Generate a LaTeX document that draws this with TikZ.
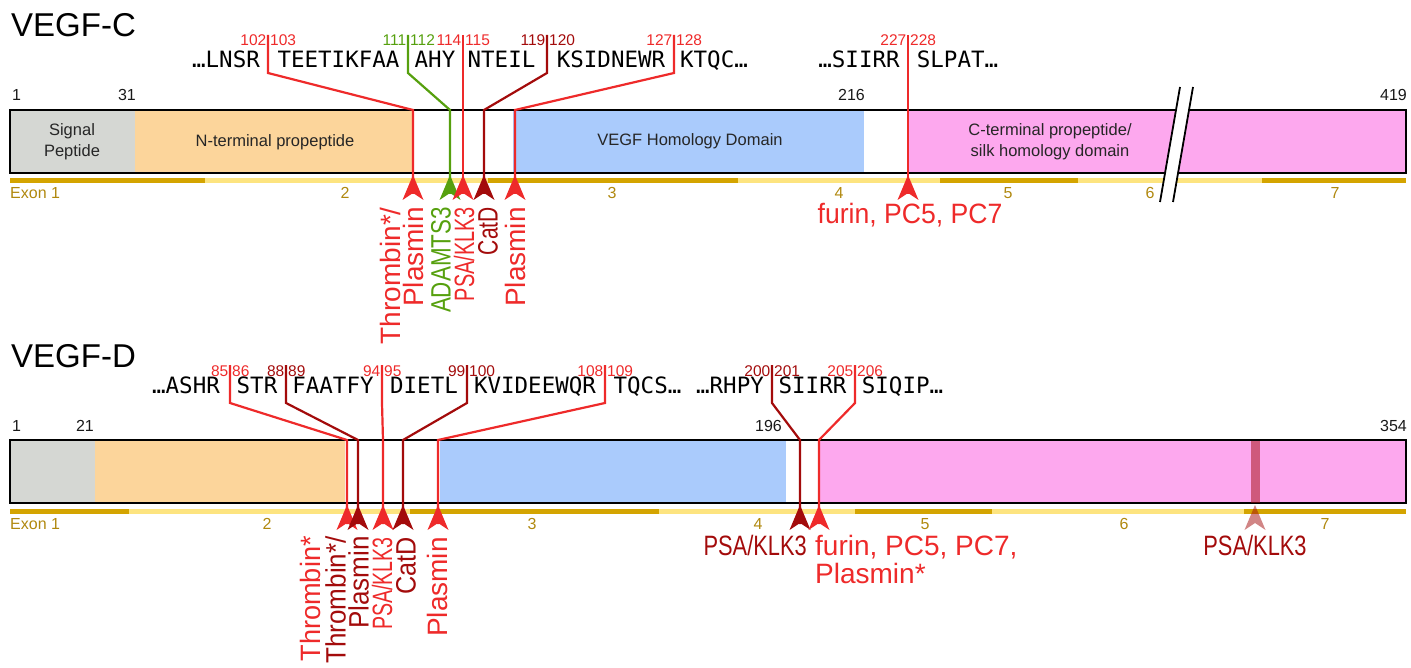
\documentclass[tikz,border=0pt]{standalone}
\usepackage{fontspec}
\usepackage{graphicx}
\setmainfont{Liberation Sans}
\newfontfamily\seqfont{DejaVu Sans Mono}
\definecolor{cred}{HTML}{EE2A2A}
\definecolor{cdred}{HTML}{A30B0B}
\definecolor{cgreen}{HTML}{56A00E}
\definecolor{cgrey}{HTML}{D5D7D3}
\definecolor{corange}{HTML}{FCD59B}
\definecolor{cblue}{HTML}{AACBFC}
\definecolor{cpink}{HTML}{FDA8EE}
\definecolor{exdark}{HTML}{D4A400}
\definecolor{exlight}{HTML}{FDE480}
\definecolor{extext}{HTML}{B0880E}
% cleavage site: name, colour, tick x, bar x, dy, left number, right number
\newcommand{\site}[7]{%
  \coordinate (#1t) at (#3,{35+#5});
  \coordinate (#1k) at (#3,{73+#5});
  \coordinate (#1b) at (#4,{110+#5});
  \coordinate (#1a) at (#4,{194+#5});
  \draw[cutline,#2] (#1t) -- (#1k) -- (#1b) -- (#1a);
  \fill[#2] (#4,{175+#5}) -- ++(10.5,25) -- ++(-10.5,-7) -- ++(-10.5,7) -- cycle;
  \node[num,text=#2,anchor=base east] (#1l) at ({#3-1.5},{46+#5}) {#6};
  \node[num,text=#2,anchor=base west] (#1r) at ({#3+2},{46+#5}) {#7};
}
\newcommand{\exseg}[4]{\fill[#4] (#2,{#1-2.5}) rectangle (#3,{#1+2.5});}
\begin{document}
\begin{tikzpicture}[x=1pt,y=-1pt,
  cutline/.style={line width=2.2pt, line join=miter},
  num/.style={font=\fontsize{15.5}{16}\selectfont, inner sep=0pt},
  posn/.style={font=\fontsize{16}{18}\selectfont, inner sep=0pt, text=black!90},
  dom/.style={font=\fontsize{16.5}{21}\selectfont, inner sep=0pt, align=center, text=black!85},
  seqw/.style={font=\seqfont\fontsize{22.5}{24}\selectfont, inner sep=0pt, anchor=base},
  exlab/.style={font=\fontsize{16}{18}\selectfont, inner sep=0pt, text=extext, anchor=base},
  rlab/.style={rotate=90, anchor=east, inner sep=0pt, align=right, font=\fontsize{28}{23}\selectfont},
  hlab/.style={inner sep=0pt, font=\fontsize{28}{29}\selectfont},
  ttl/.style={font=\fontsize{33}{36}\selectfont, inner sep=0pt, anchor=base west},
]
\useasboundingbox (0,0) rectangle (1411,668);

%================ VEGF-C =================
\node[ttl] (tC) at (11,37) {VEGF-C};
% bar
\fill[cgrey] (10,110) rectangle (135,173);
\fill[corange] (135,110) rectangle (413,173);
\fill[cblue] (513,110) rectangle (864,173);
\fill[cpink] (908,110) rectangle (1406,173);
\draw[line width=2pt] (10,110) rectangle (1406,173);
% domain labels
\node[dom] (dC1) at (72,142) {Signal\\Peptide};
\node[dom] (dC2) at (275,142) {N-terminal propeptide};
\node[dom] (dC3) at (690,141) {VEGF Homology Domain};
\node[dom] (dC4) at (1050,142) {C-terminal propeptide/\\silk homology domain};
% positions
\node[posn,anchor=base west] (pC1) at (12,101) {1};
\node[posn,anchor=base east] (pC2) at (136,101) {31};
\node[posn,anchor=base east] (pC3) at (865,101) {216};
\node[posn,anchor=base east] (pC4) at (1407,101) {419};
% exons
\exseg{181}{10}{205}{exdark}
\exseg{181}{205}{488}{exlight}
\exseg{181}{488}{738}{exdark}
\exseg{181}{738}{940}{exlight}
\exseg{181}{940}{1078}{exdark}
\exseg{181}{1078}{1262}{exlight}
\exseg{181}{1262}{1406}{exdark}
\node[exlab,anchor=base west] (eC1) at (10,199) {Exon 1};
\node[exlab] (eC2) at (345,199) {2};
\node[exlab] (eC3) at (612,199) {3};
\node[exlab] (eC4) at (839,199) {4};
\node[exlab] (eC5) at (1008,199) {5};
\node[exlab] (eC6) at (1150,199) {6};
\node[exlab] (eC7) at (1335,199) {7};
% break
\fill[white] (1180,87) -- (1193,87) -- (1173,202) -- (1160,202) -- cycle;
\draw[line width=1.8pt] (1180,87) -- (1160,202);
\draw[line width=1.8pt] (1193,87) -- (1173,202);
% sequence
\node[seqw] (sC1) at (226,68) {…LNSR};
\node[seqw] (sC2) at (338.5,68) {TEETIKFAA};
\node[seqw] (sC3) at (435,68) {AHY};
\node[seqw] (sC4) at (501.5,68) {NTEIL};
\node[seqw] (sC5) at (611,68) {KSIDNEWR};
\node[seqw] (sC6) at (714,68) {KTQC…};
\node[seqw] (sC7) at (859,68) {…SIIRR};
\node[seqw] (sC8) at (957.5,68) {SLPAT…};
% sites
\site{c1}{cred}{268}{413}{0}{102}{103}
\site{c2}{cgreen}{408}{450}{0}{111}{112}
\site{c3}{cred}{463}{463}{0}{114}{115}
\site{c4}{cdred}{547}{484}{0}{119}{120}
\site{c5}{cred}{674}{515}{0}{127}{128}
\site{c6}{cred}{908}{908}{0}{227}{228}
% enzyme labels
\node[rlab,text=cred] (lC1) at (401.5,207) {Thrombin*/\\Plasmin};
\node[rlab,text=cgreen] (lC2) at (441,207) {\scalebox{0.8}[1]{ADAMTS3}};
\node[rlab,text=cred] (lC3) at (464,207) {\scalebox{0.71}[1]{PSA/KLK3}};
\node[rlab,text=cdred] (lC4) at (488,207) {\scalebox{0.75}[1]{CatD}};
\node[rlab,text=cred] (lC5) at (515,207) {Plasmin};
\node[hlab,text=cred,anchor=base] (lC6) at (910,224) {\scalebox{0.95}[1]{furin, PC5, PC7}};

%================ VEGF-D =================
\node[ttl] (tD) at (11,367) {VEGF-D};
\fill[cgrey] (10,440) rectangle (95,503);
\fill[corange] (95,440) rectangle (345,503);
\fill[cblue] (440,440) rectangle (786,503);
\fill[cpink] (820,440) rectangle (1406,503);
\draw[line width=2pt] (10,440) rectangle (1406,503);
\node[posn,anchor=base west] (pD1) at (12,431) {1};
\node[posn,anchor=base east] (pD2) at (94,431) {21};
\node[posn,anchor=base east] (pD3) at (782,431) {196};
\node[posn,anchor=base east] (pD4) at (1407,431) {354};
\exseg{511}{10}{129}{exdark}
\exseg{511}{129}{410}{exlight}
\exseg{511}{410}{659}{exdark}
\exseg{511}{659}{855}{exlight}
\exseg{511}{855}{992}{exdark}
\exseg{511}{992}{1244}{exlight}
\exseg{511}{1244}{1406}{exdark}
\node[exlab,anchor=base west] (eD1) at (10,529) {Exon 1};
\node[exlab] (eD2) at (267,529) {2};
\node[exlab] (eD3) at (532,529) {3};
\node[exlab] (eD4) at (758,529) {4};
\node[exlab] (eD5) at (925,529) {5};
\node[exlab] (eD6) at (1124,529) {6};
\node[exlab] (eD7) at (1325,529) {7};
% sequence
\node[seqw] (sD1) at (186,393) {…ASHR};
\node[seqw] (sD2) at (257,393) {STR};
\node[seqw] (sD3) at (333,393) {FAATFY};
\node[seqw] (sD4) at (424,393) {DIETL};
\node[seqw] (sD5) at (535,393) {KVIDEEWQR};
\node[seqw] (sD6) at (647.5,393) {TQCS…};
\node[seqw] (sD7) at (730,393) {…RHPY};
\node[seqw] (sD8) at (812.5,393) {SIIRR};
\node[seqw] (sD9) at (902.5,393) {SIQIP…};
% translucent PSA site
\fill[cdred,opacity=0.5] (1250.5,441) rectangle (1259.5,503);
\fill[cdred,opacity=0.5] (1255,505) -- ++(10.5,25) -- ++(-10.5,-7) -- ++(-10.5,7) -- cycle;
\coordinate (dPs) at (1255,505);
% sites
\site{d1}{cred}{230}{347}{330}{85}{86}
\site{d2}{cdred}{286}{358}{330}{88}{89}
\site{d3}{cred}{382}{383}{330}{94}{95}
\site{d4}{cdred}{467}{403}{330}{99}{100}
\site{d5}{cred}{605}{438}{330}{108}{109}
\site{d6}{cdred}{772}{800}{330}{200}{201}
\site{d7}{cred}{855}{819}{330}{205}{206}
% labels
\node[rlab,text=cred] (lD1) at (310,536) {\scalebox{0.97}[1]{Thrombin*}};
\node[rlab,text=cdred] (lD2) at (347,536) {\scalebox{0.93}[1]{Thrombin*/}\\\scalebox{0.93}[1]{Plasmin}};
\node[rlab,text=cred] (lD3) at (382,537) {\scalebox{0.70}[1]{PSA/KLK3}};
\node[rlab,text=cdred] (lD4) at (406,537) {\scalebox{0.9}[1]{CatD}};
\node[rlab,text=cred] (lD5) at (437,537) {Plasmin};
\node[hlab,text=cdred,anchor=base east] (lD6) at (807,555) {\scalebox{0.78}[1]{PSA/KLK3}};
\node[hlab,text=cred,anchor=base west] (lD7) at (815,555) {furin, PC5, PC7,};
\node[hlab,text=cred,anchor=base west] (lD8) at (815,583) {Plasmin*};
\node[hlab,text=cdred,anchor=base] (lD9) at (1255,555) {\scalebox{0.78}[1]{PSA/KLK3}};
\end{tikzpicture}
\end{document}
